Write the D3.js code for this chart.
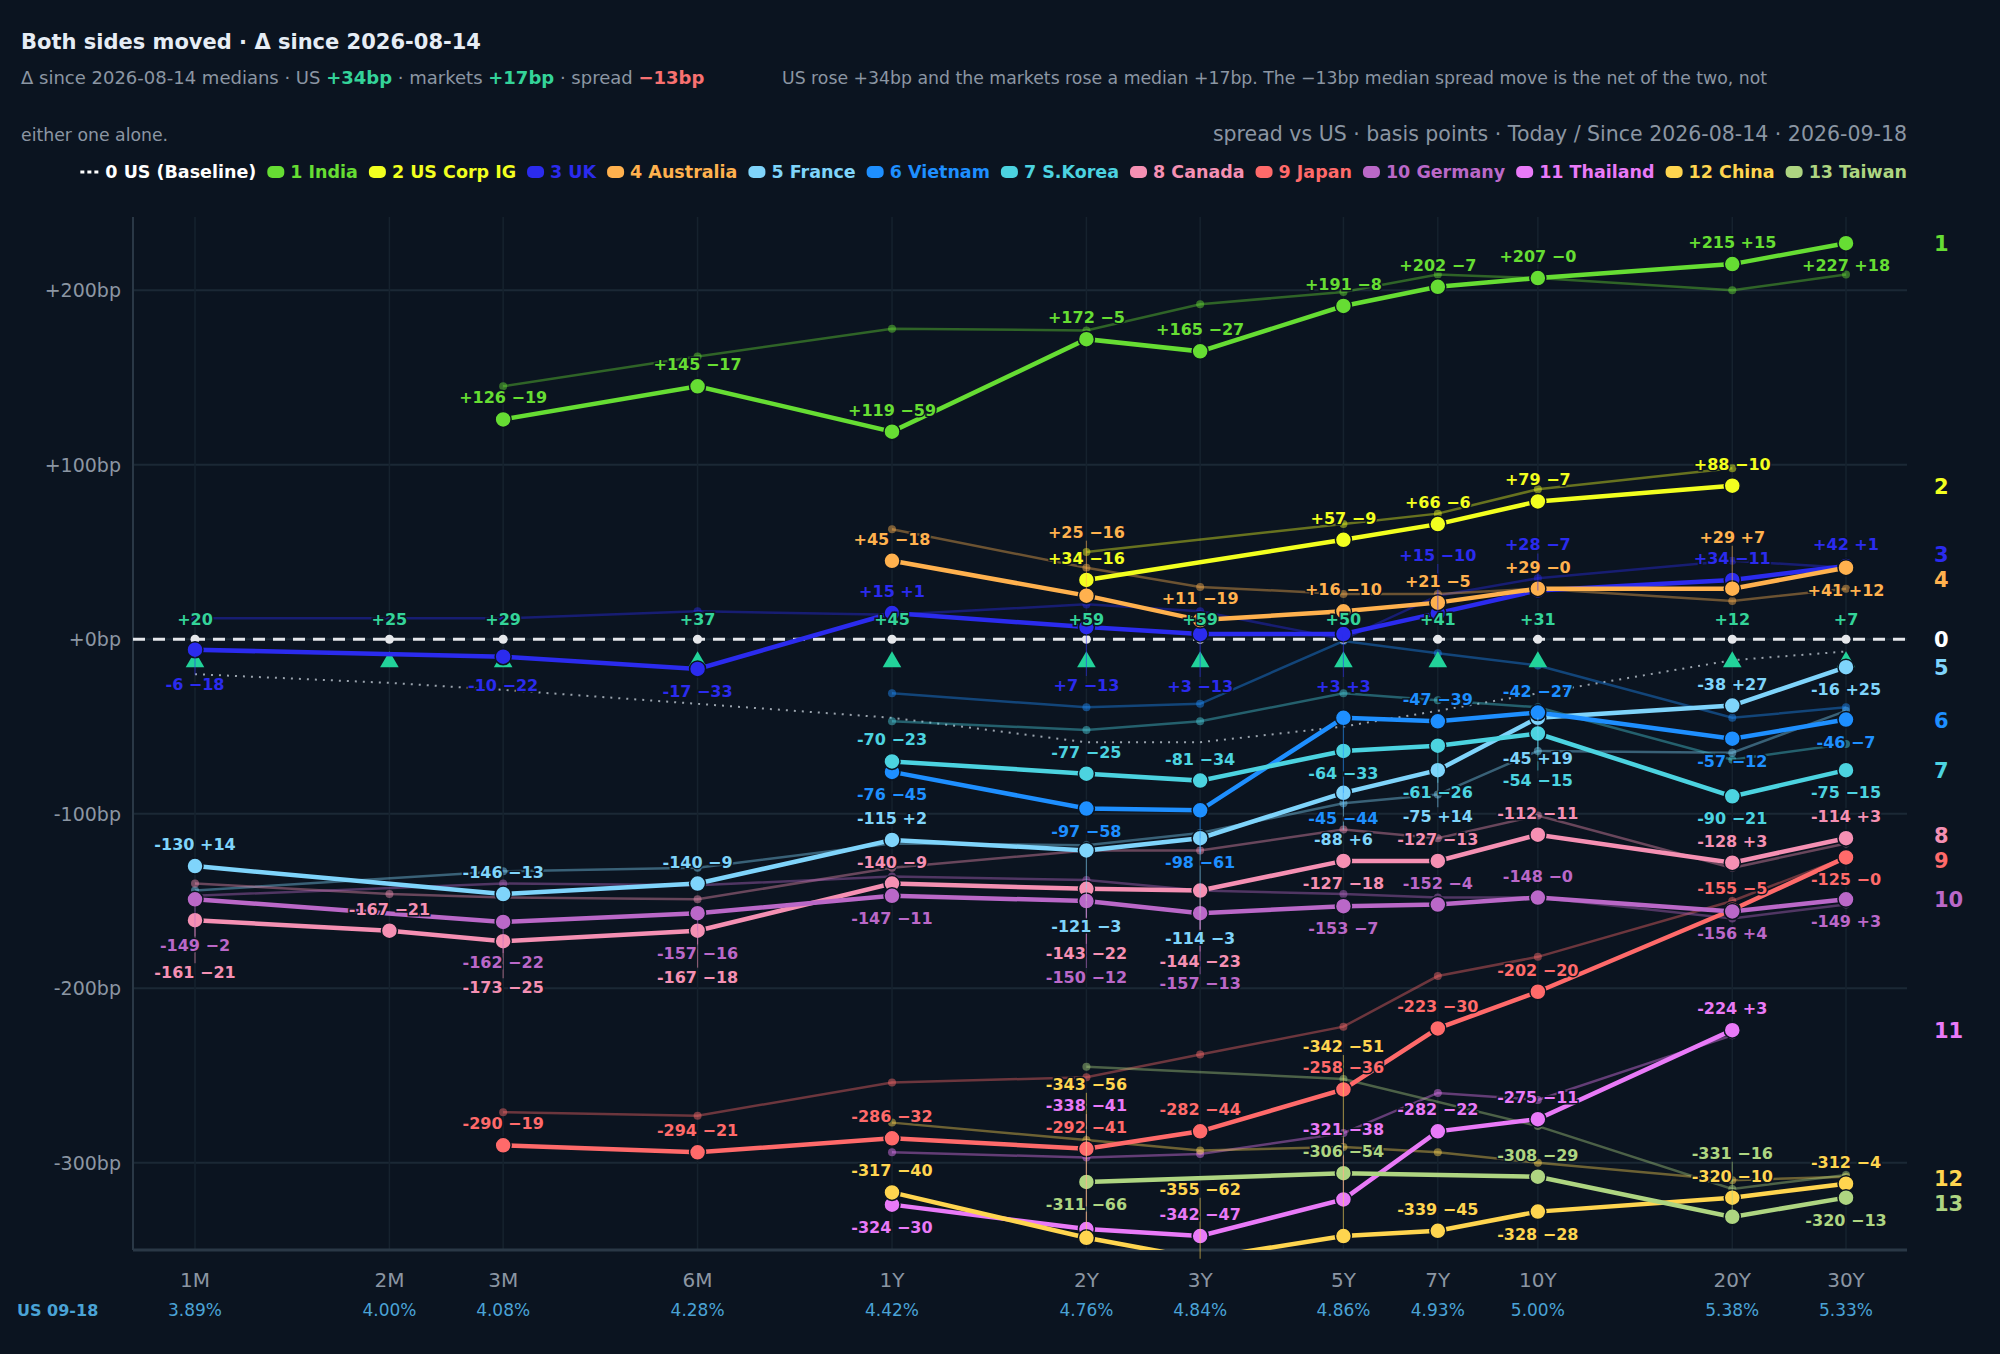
<!DOCTYPE html>
<html>
<head>
<meta charset="utf-8">
<script src="https://cdn.jsdelivr.net/npm/d3@7"></script>
<style>
body { margin: 0; background: #0b1420; font-family: "DejaVu Sans", sans-serif; }
</style>
</head>
<body>
<svg id="chart" width="2000" height="1354"></svg>
<script>
// tenors in months
var tenors = [1, 2, 3, 6, 12, 24, 36, 60, 84, 120, 240, 360];
var tenorLabels = ["1M", "2M", "3M", "6M", "1Y", "2Y", "3Y", "5Y", "7Y", "10Y", "20Y", "30Y"];
var usYields = ["3.89%", "4.00%", "4.08%", "4.28%", "4.42%", "4.76%", "4.84%", "4.86%", "4.93%", "5.00%", "5.38%", "5.33%"];
var usDelta = [20, 25, 29, 37, 45, 59, 59, 50, 41, 31, 12, 7];

// [tenor, spread today, change since]
var india = [[3,126,-19],[6,145,-17],[12,119,-59],[24,172,-5],[36,165,-27],[60,191,-8],[84,202,-7],[120,207,0],[240,215,15],[360,227,18]];
var usCorp = [[24,34,-16],[60,57,-9],[84,66,-6],[120,79,-7],[240,88,-10]];
var uk = [[1,-6,-18],[3,-10,-22],[6,-17,-33],[12,15,1],[24,7,-13],[36,3,-13],[60,3,3],[84,15,-10],[120,28,-7],[240,34,-11],[360,42,1]];
var australia = [[12,45,-18],[24,25,-16],[36,11,-19],[60,16,-10],[84,21,-5],[120,29,0],[240,29,7],[360,41,12]];
var france = [[1,-130,14],[3,-146,-13],[6,-140,-9],[12,-115,2],[24,-121,-3],[36,-114,-3],[60,-88,6],[84,-75,14],[120,-45,19],[240,-38,27],[360,-16,25]];
var vietnam = [[12,-76,-45],[24,-97,-58],[36,-98,-61],[60,-45,-44],[84,-47,-39],[120,-42,-27],[240,-57,-12],[360,-46,-7]];
var korea = [[12,-70,-23],[24,-77,-25],[36,-81,-34],[60,-64,-33],[84,-61,-26],[120,-54,-15],[240,-90,-21],[360,-75,-15]];
var canada = [[1,-161,-21],[2,-167,-21],[3,-173,-25],[6,-167,-18],[12,-140,-9],[24,-143,-22],[36,-144,-23],[60,-127,-18],[84,-127,-13],[120,-112,-11],[240,-128,3],[360,-114,3]];
var japan = [[3,-290,-19],[6,-294,-21],[12,-286,-32],[24,-292,-41],[36,-282,-44],[60,-258,-36],[84,-223,-30],[120,-202,-20],[240,-155,-5],[360,-125,0]];
var germany = [[1,-149,-2],[3,-162,-22],[6,-157,-16],[12,-147,-11],[24,-150,-12],[36,-157,-13],[60,-153,-7],[84,-152,-4],[120,-148,0],[240,-156,4],[360,-149,3]];
var thailand = [[12,-324,-30],[24,-338,-41],[36,-342,-47],[60,-321,-38],[84,-282,-22],[120,-275,-11],[240,-224,3]];
var china = [[12,-317,-40],[24,-343,-56],[36,-355,-62],[60,-342,-51],[84,-339,-45],[120,-328,-28],[240,-320,-10],[360,-312,-4]];
var taiwan = [[24,-311,-66],[60,-306,-54],[120,-308,-29],[240,-331,-16],[360,-320,-13]];

var seriesNames = ["India", "US Corp IG", "UK", "Australia", "France", "Vietnam", "S.Korea", "Canada", "Japan", "Germany", "Thailand", "China", "Taiwan"];
var seriesColors = ["#66dd33", "#f2ff1f", "#2b2bee", "#ffb14e", "#7fd4fb", "#1e8fff", "#4cd3e0", "#f590b3", "#ff6a6a", "#ba68c8", "#e97af8", "#ffd54f", "#aed581"];
var seriesData = [india, usCorp, uk, australia, france, vietnam, korea, canada, japan, germany, thailand, china, taiwan];

var yTicks = [200, 100, 0, -100, -200, -300];

var svg = d3.select("#chart");
var margin = { left: 133, right: 93, top: 217, bottom: 104 };
var W = 2000, H = 1354;

var x = d3.scaleLog().domain([1, 360]).range([195, 1846]);
var y = d3.scaleLinear().domain([-350, 242]).range([H - margin.bottom, margin.top]);

var fmtV = function (v) { return (v < 0 ? "-" : "+") + Math.abs(v); };
var fmtD = function (d) { return (d > 0 ? "+" : "\u2212") + Math.abs(d); };

// header
svg.append("text").attr("x", 21).attr("y", 49).attr("fill", "#e6edf5")
    .style("font-size", "21px").style("font-weight", "bold").text("Both sides moved \u00b7 \u0394 since 2026-08-14");

var sub = svg.append("text").attr("x", 21).attr("y", 84).attr("fill", "#8b96a3").style("font-size", "18px");
sub.append("tspan").text("\u0394 since 2026-08-14 medians \u00b7 US ");
sub.append("tspan").attr("fill", "#34d399").style("font-weight", "bold").text("+34bp");
sub.append("tspan").text(" \u00b7 markets ");
sub.append("tspan").attr("fill", "#34d399").style("font-weight", "bold").text("+17bp");
sub.append("tspan").text(" \u00b7 spread ");
sub.append("tspan").attr("fill", "#f87171").style("font-weight", "bold").text("\u221213bp");

svg.append("text").attr("x", 782).attr("y", 84).attr("fill", "#8b96a3").style("font-size", "17.3px")
    .text("US rose +34bp and the markets rose a median +17bp. The \u221213bp median spread move is the net of the two, not");
svg.append("text").attr("x", 21).attr("y", 141).attr("fill", "#8b96a3").style("font-size", "17.3px")
    .text("either one alone.");
svg.append("text").attr("x", 1907).attr("y", 141).attr("text-anchor", "end").attr("fill", "#8b96a3")
    .style("font-size", "20.5px").text("spread vs US \u00b7 basis points \u00b7 Today / Since 2026-08-14 \u00b7 2026-09-18");

// legend, laid out then right-aligned
var legendItems = [{ name: "0 US (Baseline)", color: "#ffffff", dash: true }];
seriesNames.forEach(function (n, i) { legendItems.push({ name: (i + 1) + " " + n, color: seriesColors[i] }); });
var lg = svg.append("g");
var lx = 0;
legendItems.forEach(function (it) {
    var g = lg.append("g").attr("transform", "translate(" + lx + ",0)");
    if (it.dash) {
        g.append("line").attr("x1", 0).attr("x2", 20).attr("y1", 0).attr("y2", 0)
            .attr("stroke", "#fff").attr("stroke-width", 3).attr("stroke-dasharray", "4,3");
    } else {
        g.append("rect").attr("x", 2).attr("y", -6).attr("width", 17).attr("height", 12).attr("rx", 5).attr("fill", it.color);
    }
    var t = g.append("text").attr("x", 25).attr("y", 6).attr("fill", it.color)
        .style("font-size", "17.5px").style("font-weight", "bold").text(it.name);
    lx += 25 + t.node().getComputedTextLength() + 9;
});
lg.attr("transform", "translate(" + (1907 - lx + 9) + ",172)");

// grid
var plot = svg.append("g");
plot.selectAll(".hg").data(yTicks).enter().append("line")
    .attr("x1", margin.left).attr("x2", W - margin.right).attr("y1", y).attr("y2", y)
    .attr("stroke", "#1b2835").attr("stroke-width", 2);
plot.selectAll(".vg").data(tenors).enter().append("line")
    .attr("x1", x).attr("x2", x).attr("y1", margin.top).attr("y2", H - margin.bottom)
    .attr("stroke", "#16222e").attr("stroke-width", 1.5);
plot.append("line").attr("x1", margin.left).attr("x2", margin.left).attr("y1", margin.top).attr("y2", H - margin.bottom)
    .attr("stroke", "#2a3846").attr("stroke-width", 2);
plot.append("line").attr("x1", margin.left).attr("x2", W - margin.right).attr("y1", H - margin.bottom).attr("y2", H - margin.bottom)
    .attr("stroke", "#2a3846").attr("stroke-width", 3);

// axes text
svg.selectAll(".yl").data(yTicks).enter().append("text")
    .attr("x", 121).attr("y", function (d) { return y(d) + 7; }).attr("text-anchor", "end")
    .attr("fill", "#8b96a3").style("font-size", "19px").text(function (d) { return fmtV(d) + "bp"; });
svg.selectAll(".xl").data(tenors).enter().append("text")
    .attr("x", x).attr("y", 1287).attr("text-anchor", "middle").attr("fill", "#8b96a3")
    .style("font-size", "20px").text(function (d, i) { return tenorLabels[i]; });
svg.selectAll(".yy").data(tenors).enter().append("text")
    .attr("x", x).attr("y", 1316).attr("text-anchor", "middle").attr("fill", "#4aa3d6")
    .style("font-size", "17px").text(function (d, i) { return usYields[i]; });
svg.append("text").attr("x", 17).attr("y", 1316).attr("fill", "#4aa3d6").style("font-size", "16px")
    .style("font-weight", "bold").text("US 09-18");

svg.append("defs").append("clipPath").attr("id", "clip").append("rect")
    .attr("x", margin.left).attr("y", margin.top).attr("width", W - margin.right - margin.left)
    .attr("height", H - margin.bottom - margin.top);
var marks = svg.append("g").attr("clip-path", "url(#clip)");
var leaderLayer = svg.append("g");
var labelLayer = svg.append("g");

var line = d3.line().x(function (d) { return x(d[0]); }).y(function (d) { return y(d[1]); });
marks.append("path").datum(tenors.map(function (t, i) { return [t, -usDelta[i]]; })).attr("d", line)
    .attr("fill", "none").attr("stroke", "#9aa3ad").attr("stroke-width", 2).attr("stroke-dasharray", "2,6");

// since lines
seriesData.forEach(function (data, i) {
    var since = data.map(function (d) { return [d[0], d[1] - d[2]]; });
    marks.append("path").datum(since).attr("d", line).attr("fill", "none")
        .attr("stroke", seriesColors[i]).attr("stroke-opacity", 0.4).attr("stroke-width", 2.5);
    marks.selectAll(null).data(since).enter().append("circle")
        .attr("cx", function (d) { return x(d[0]); }).attr("cy", function (d) { return y(d[1]); })
        .attr("r", 4).attr("fill", seriesColors[i]).attr("fill-opacity", 0.45);
});

marks.selectAll(".tri").data(tenors).enter().append("path")
    .attr("d", d3.symbol().type(d3.symbolTriangle).size(150))
    .attr("transform", function (d) { return "translate(" + x(d) + "," + y(-13) + ")"; })
    .attr("fill", "#22d39a");

marks.append("line").attr("x1", margin.left).attr("x2", W - margin.right).attr("y1", y(0)).attr("y2", y(0))
    .attr("stroke", "#e5e7eb").attr("stroke-width", 3).attr("stroke-dasharray", "12,8");
marks.selectAll(".bd").data(tenors).enter().append("circle")
    .attr("cx", x).attr("cy", y(0)).attr("r", 4.5).attr("fill", "#e5e7eb");

// today lines
seriesData.forEach(function (data, i) {
    marks.append("path").datum(data.map(function (d) { return [d[0], d[1]]; })).attr("d", line)
        .attr("fill", "none").attr("stroke", seriesColors[i]).attr("stroke-width", 4.5);
    marks.selectAll(null).data(data).enter().append("circle")
        .attr("cx", function (d) { return x(d[0]); }).attr("cy", function (d) { return y(d[1]); })
        .attr("r", 8).attr("fill", seriesColors[i]).attr("stroke", "#0b1420").attr("stroke-width", 1.5);
});

// labels: each takes the nearest free slot above or below its dot,
// avoiding every dot in the column and the labels already placed
var LH = 21;
var plotTop = margin.top + 2, plotBottom = H - margin.bottom - 4;
tenors.forEach(function (t, ti) {
    var dots = [];
    var items = [];
    seriesData.forEach(function (data, si) {
        data.forEach(function (d) {
            if (d[0] !== t) return;
            var py = y(d[1]);
            dots.push(py);
            items.push({ py: py, text: fmtV(d[1]) + " " + fmtD(d[2]), color: seriesColors[si] });
        });
    });
    dots.push(y(0));
    var taken = [[y(0) - 20 - LH / 2, y(0) - 20 + LH / 2], [y(-13) - 9, y(-13) + 9]];
    labelLayer.append("text").attr("x", x(t)).attr("y", y(0) - 14).attr("text-anchor", "middle")
        .attr("fill", "#34d399").style("font-size", "16px").style("font-weight", "bold")
        .style("paint-order", "stroke").attr("stroke", "#0b1420").attr("stroke-width", 3)
        .text("+" + usDelta[ti]);

    items.sort(function (a, b) { return a.py - b.py; });
    items.forEach(function (d) {
        var cy = d.py - 22;
        for (var s = 0; s < 60; s++) {
            var off = 22 + Math.floor(s / 2) * 6;
            var c = s % 2 === 0 ? d.py - off : d.py + off;
            var top = c - LH / 2, bot = c + LH / 2;
            if (top < plotTop || bot > plotBottom) continue;
            var free = taken.every(function (r) { return bot <= r[0] || top >= r[1]; }) &&
                dots.every(function (p) { return bot <= p - 9 || top >= p + 9; });
            if (free) { cy = c; break; }
        }
        taken.push([cy - LH / 2, cy + LH / 2]);
        if (Math.abs(cy - d.py) > 30) {
            leaderLayer.append("line").attr("x1", x(t)).attr("x2", x(t)).attr("y1", d.py)
                .attr("y2", cy + (cy < d.py ? 9 : -9)).attr("stroke", d.color)
                .attr("stroke-opacity", 0.5).attr("stroke-width", 1.2);
        }
        labelLayer.append("text").attr("x", x(t)).attr("y", cy + 6).attr("text-anchor", "middle")
            .attr("fill", d.color).style("font-size", "16px").style("font-weight", "bold")
            .style("paint-order", "stroke").attr("stroke", "#0b1420").attr("stroke-width", 3)
            .text(d.text);
    });
});

// right-side series numbers, pushed apart in clusters
var ends = [{ n: "0", color: "#ffffff", want: y(0) }];
seriesData.forEach(function (data, i) {
    var last = data[data.length - 1];
    ends.push({ n: String(i + 1), color: seriesColors[i], want: y(last[1]) });
});
ends.sort(function (a, b) { return a.want - b.want; });
var clusters = ends.map(function (d) { return { items: [d], sum: d.want }; });
var merged = true, gap = 25;
while (merged) {
    merged = false;
    clusters.forEach(function (c) { c.top = c.sum / c.items.length - (c.items.length - 1) * gap / 2; });
    for (var k = 0; k < clusters.length - 1; k++) {
        var a = clusters[k], b = clusters[k + 1];
        if (a.top + a.items.length * gap > b.top) {
            a.items = a.items.concat(b.items); a.sum += b.sum;
            clusters.splice(k + 1, 1); merged = true; break;
        }
    }
}
clusters.forEach(function (c) { c.items.forEach(function (d, j) { d.y = c.top + j * gap; }); });
svg.selectAll(".end").data(ends).enter().append("text")
    .attr("x", 1934).attr("y", function (d) { return d.y + 8; }).attr("fill", function (d) { return d.color; })
    .style("font-size", "21px").style("font-weight", "bold").text(function (d) { return d.n; });
</script>
</body>
</html>
